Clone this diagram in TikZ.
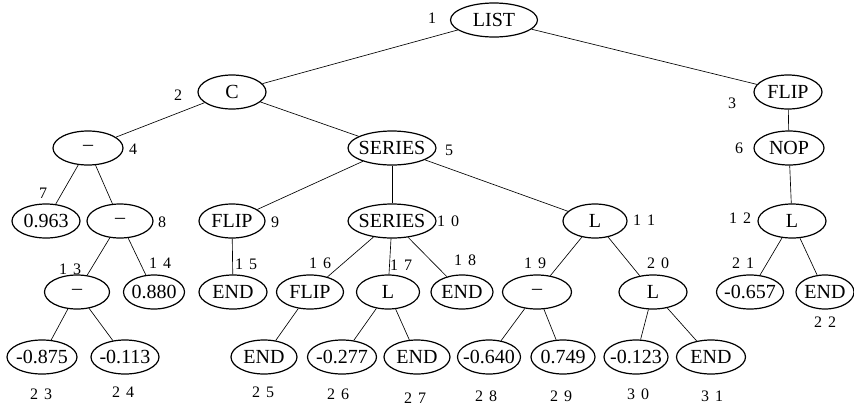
\documentclass[tikz,border=0pt]{standalone}
\usepackage{fontspec}
\setmainfont{Liberation Serif}
\usetikzlibrary{shapes.geometric}
\tikzset{
  tn/.style={ellipse, draw, line width=1.2pt, inner xsep=-4pt, inner ysep=0pt, minimum width=68pt, minimum height=34pt, font=\fontsize{20}{22}\selectfont},
  lbl/.style={inner sep=0pt, font=\fontsize{16}{18}\selectfont},
  edge/.style={line width=0.65pt}
}
\newcommand{\dgap}{\hspace{6pt}}
\begin{document}
\begin{tikzpicture}[x=1pt,y=-1pt]
\useasboundingbox (0,0) rectangle (854,408);
% nodes
\node[tn, minimum width=87pt] (n1) at (494,20) {LIST};
\node[tn] (n2) at (232,92) {C};
\node[tn] (n3) at (788,92) {FLIP};
\node[tn, minimum width=70pt] (n4) at (88,148) {\textendash};
\node[tn, minimum width=88pt] (n5) at (392,148) {SERIES};
\node[tn, minimum width=70pt] (n6) at (789,148) {NOP};
\node[tn] (n7) at (46,221) {0.963};
\node[tn, minimum width=66pt] (n8) at (120,221) {\textendash};
\node[tn, minimum width=66pt] (n9) at (232,221) {FLIP};
\node[tn, minimum width=88pt] (n10) at (392,221) {SERIES};
\node[tn, minimum width=64pt] (n11) at (595,221) {L};
\node[tn] (n12) at (792,221) {L};
\node[tn, minimum width=65pt] (n13) at (77,292) {\textendash};
\node[tn, minimum width=61pt] (n14) at (154,292) {0.880};
\node[tn] (n15) at (233,292) {END};
\node[tn, minimum width=67pt] (n16) at (310,292) {FLIP};
\node[tn, minimum width=63pt] (n17) at (388,292) {L};
\node[tn, minimum width=62pt] (n18) at (462,292) {END};
\node[tn, minimum width=69pt] (n19) at (537,292) {\textendash};
\node[tn] (n20) at (653,292) {L};
\node[tn, minimum width=67pt] (n21) at (750,292) {-0.657};
\node[tn, minimum width=58pt] (n22) at (825,292) {END};
\node[tn, minimum width=70pt] (n23) at (42,357) {-0.875};
\node[tn] (n24) at (125,357) {-0.113};
\node[tn, minimum width=66pt] (n25) at (264,357) {END};
\node[tn, minimum width=69pt] (n26) at (342,357) {-0.277};
\node[tn, minimum width=66pt] (n27) at (417,357) {END};
\node[tn, minimum width=63pt] (n28) at (489,357) {-0.640};
\node[tn, minimum width=64pt] (n29) at (563,357) {0.749};
\node[tn, minimum width=64pt] (n30) at (636,357) {-0.123};
\node[tn, minimum width=69pt] (n31) at (711,357) {END};
% edges
\draw[edge] (n1) -- (n2);
\draw[edge] (n1) -- (n3);
\draw[edge] (n2) -- (n4);
\draw[edge] (n2) -- (n5);
\draw[edge] (n3) -- (n6);
\draw[edge] (n4) -- (n7);
\draw[edge] (n4) -- (n8);
\draw[edge] (n5) -- (n9);
\draw[edge] (n5) -- (n10);
\draw[edge] (n5) -- (n11);
\draw[edge] (n6) -- (n12);
\draw[edge] (n8) -- (n13);
\draw[edge] (n8) -- (n14);
\draw[edge] (n9) -- (n15);
\draw[edge] (n10) -- (n16);
\draw[edge] (n10) -- (n17);
\draw[edge] (n10) -- (n18);
\draw[edge] (n11) -- (n19);
\draw[edge] (n11) -- (n20);
\draw[edge] (n12) -- (n21);
\draw[edge] (n12) -- (n22);
\draw[edge] (n13) -- (n23);
\draw[edge] (n13) -- (n24);
\draw[edge] (n16) -- (n25);
\draw[edge] (n17) -- (n26);
\draw[edge] (n17) -- (n27);
\draw[edge] (n19) -- (n28);
\draw[edge] (n19) -- (n29);
\draw[edge] (n20) -- (n30);
\draw[edge] (n20) -- (n31);
% labels
\node[lbl] (l1) at (432,18) {1};
\node[lbl] (l2) at (178,95) {2};
\node[lbl] (l3) at (732,103) {3};
\node[lbl] (l4) at (133,149) {4};
\node[lbl] (l5) at (449,150) {5};
\node[lbl] (l6) at (739,148) {6};
\node[lbl] (l7) at (43,193) {7};
\node[lbl] (l8) at (162,222) {8};
\node[lbl] (l9) at (275,222) {9};
\node[lbl] (l10) at (448,221) {1\dgap0};
\node[lbl] (l11) at (644,220) {1\dgap1};
\node[lbl] (l12) at (740,218) {1\dgap2};
\node[lbl] (l13) at (70,269) {1\dgap3};
\node[lbl] (l14) at (160,263) {1\dgap4};
\node[lbl] (l15) at (246,264) {1\dgap5};
\node[lbl] (l16) at (320,263) {1\dgap6};
\node[lbl] (l17) at (401,265) {1\dgap7};
\node[lbl] (l18) at (465,260) {1\dgap8};
\node[lbl] (l19) at (535,263) {1\dgap9};
\node[lbl] (l20) at (658,263) {2\dgap0};
\node[lbl] (l21) at (743,263) {2\dgap1};
\node[lbl] (l22) at (825,322) {2\dgap2};
\node[lbl] (l23) at (41,394) {2\dgap3};
\node[lbl] (l24) at (123,392) {2\dgap4};
\node[lbl] (l25) at (263,392) {2\dgap5};
\node[lbl] (l26) at (338,394) {2\dgap6};
\node[lbl] (l27) at (415,398) {2\dgap7};
\node[lbl] (l28) at (486,396) {2\dgap8};
\node[lbl] (l29) at (561,396) {2\dgap9};
\node[lbl] (l30) at (638,394) {3\dgap0};
\node[lbl] (l31) at (712,396) {3\dgap1};
\end{tikzpicture}
\end{document}
